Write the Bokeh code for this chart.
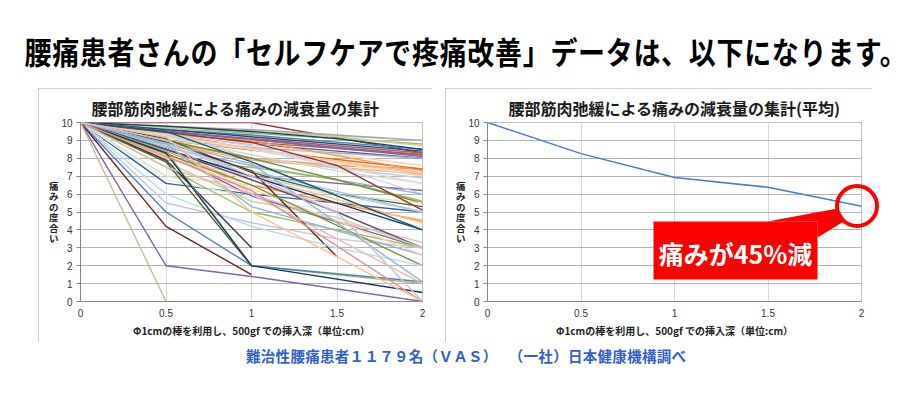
import numpy as np
from bokeh.plotting import figure
from bokeh.models import Div, Label, BoxAnnotation, PolyAnnotation, FixedTicker, Range1d
from bokeh.layouts import column, row
from bokeh.embed import file_html
from bokeh.resources import INLINE

# ---------------- data ----------------
depth = [0, 0.5, 1, 1.5, 2]
depth_ticks = [0, 0.5, 1, 1.5, 2]
depth_labels = ["0", "0.5", "1", "1.5", "2"]
pain_ticks = [0, 1, 2, 3, 4, 5, 6, 7, 8, 9, 10]

avg_pain = [10, 8.26, 6.93, 6.38, 5.32]

N = None
patients = [
    [10, 10, 10, N, 8.3],
    [10, N, N, N, 9.0],
    [10, 9.8, 9.6, 9.3, 9.0],
    [10, N, N, N, 8.8],
    [10, 9.7, 9.5, 9.2, 8.7],
    [10, 9.6, 9.3, N, 8.5],
    [10, 9.8, 9.5, 9.1, 8.5],
    [10, N, 9.2, N, 8.4],
    [10, 9.5, N, N, 8.3],
    [10, 9.5, N, 8.6, 8.2],
    [10, 9.3, 8.9, N, 8.2],
    [10, N, N, N, 8.1],
    [10, 9.2, 8.8, 8.4, 8.0],
    [10, 9.0, 8.6, 8.3, 8.0],
    [10, 9.4, 8.8, N, 7.6],
    [10, 8.9, 8.0, 7.6, 7.4],
    [10, 9.0, N, N, 7.4],
    [10, 9.3, 9.0, N, 7.3],
    [10, N, 8.5, N, 7.2],
    [10, 9.3, N, N, 7.1],
    [10, 8.8, 7.9, N, 7.1],
    [10, N, N, N, 7.0],
    [10, 9.4, 8.0, N, 6.9],
    [10, 9.0, 8.5, N, 6.6],
    [10, 9.2, 8.2, 7.3, 6.6],
    [10, 8.5, 7.0, N, 6.2],
    [10, N, 8.7, 7.5, 6.0],
    [10, 8.6, 7.6, N, 6.0],
    [10, 7.9, 7.5, 6.8, 5.6],
    [10, N, 8.0, 6.8, 5.5],
    [10, 7.0, 6.5, 6.0, 5.5],
    [10, 9.1, 7.2, 6.0, 5.3],
    [10, N, 8.9, 7.6, 5.1],
    [10, 6.6, 6.0, N, 5.0],
    [10, 8.7, 7.3, N, 5.0],
    [10, 8.8, 7.0, 6.0, 5.0],
    [10, 8.0, 6.8, 5.2, 4.6],
    [10, 8.4, 6.5, 5.5, 4.5],
    [10, 8.0, 7.0, N, 4.4],
    [10, 6.8, 5.8, 5.0, 4.2],
    [10, N, 7.0, 5.5, 4.0],
    [10, 9.5, 7.8, N, 4.0],
    [10, 9.0, 6.0, 4.5, 3.3],
    [10, 8.3, 5.9, N, 3.0],
    [10, N, 5.0, 4.0, 3.0],
    [10, 8.5, 6.8, 5.0, 3.0],
    [10, N, 5.6, 4.7, 3.0],
    [10, 5.5, 4.4, 3.5, 3.0],
    [10, 8.8, 5.3, N, 2.6],
    [10, 8.2, 6.3, 4.5, 2.6],
    [10, 8.9, 7.3, 2.5],
    [10, N, 6.5, N, 2.0],
    [10, 6.0, 4.2, 3.0, 2.0],
    [10, 7.9, 3.0],
    [10, 7.8, 2.0],
    [10, 8.4, 2.0, N, 1.0],
    [10, 5.0, 2.0, N, 1.1],
    [10, N, 7.7, 4.4, 1.1],
    [10, 7.5, 6.0, 3.5, 1.0],
    [10, 8.3, 2.0, N, 0.5],
    [10, 4.2, 1.5],
    [10, 2.0, 1.4, N, 0.0],
    [10, N, 6.2, N, 0.0],
    [10, 9.2, 5.0, N, 0.0],
    [10, 9.0, 7.0, 5.0, 0.0],
    [10, 0.0],
]

line_colors = [
    "#953735", "#BFBFBF", "#A6A6A6", "#9BBB59", "#C3D69B", "#4F81BD", "#17375E", "#1F497D",
    "#C0504D", "#4F81BD", "#C0504D", "#8064A2", "#376092", "#B3A2C7", "#FCD5B5", "#F79646",
    "#E46C0A", "#F79646", "#E6B9B8", "#FAC090", "#F9AB6B", "#FCD5B5", "#B9CDE5", "#D9D9D9",
    "#DDD9C3", "#8064A2", "#C6D9F1", "#95B3D7", "#9BBB59", "#77933C", "#D7E4BD", "#4F6228",
    "#953735", "#376092", "#93CDDD", "#B9CDE5", "#F2DCDB", "#F79646", "#FAC090", "#DBEEF4",
    "#17375E", "#215968", "#E6B9B8", "#8064A2", "#9BBB59", "#604A7B", "#C3D69B", "#CCC1DA",
    "#95B3D7", "#FCD5B5", "#632523", "#77933C", "#B7DEE8", "#403152", "#4F6228", "#9BBB59",
    "#4F81BD", "#95B3D7", "#E6B9B8", "#17375E", "#632523", "#8064A2", "#D99694", "#FAC090",
    "#CCC1DA", "#C4BD97",
]

JP = "Noto Sans CJK JP"
FRAME_H = 179
PX_PER_PAIN = FRAME_H / 10.0


def px_x(px, frame_w):
    return px / (frame_w / 2.0)


def px_y(px):
    return px / PX_PER_PAIN


def base_fig(frame_w, right_border, title, title_align, title_offset):
    p = figure(frame_width=frame_w, frame_height=FRAME_H,
               x_range=Range1d(0, 2), y_range=Range1d(0, 10),
               output_backend="svg", toolbar_location=None,
               min_border_left=42, min_border_right=right_border,
               min_border_top=34, min_border_bottom=41,
               background_fill_color="white", border_fill_color="white",
               title=title)
    p.styles = {"outline": "1px solid #BFBFBF", "outline-offset": "-1px"}
    p.title.align = title_align
    p.title.offset = title_offset
    p.title.text_font = JP
    p.title.text_font_size = "16px"
    p.title.text_font_style = "bold"
    p.title.text_color = "#1A1A1A"
    p.title.standoff = 5
    p.outline_line_color = "#BFBFBF"
    p.xaxis.ticker = FixedTicker(ticks=depth_ticks)
    p.xaxis.major_label_overrides = {t: l for t, l in zip(depth_ticks, depth_labels)}
    p.yaxis.ticker = FixedTicker(ticks=pain_ticks)
    for ax in (p.xaxis[0], p.yaxis[0]):
        ax.axis_line_color = "#868686"
        ax.major_tick_line_color = "#868686"
        ax.minor_tick_line_color = None
        ax.major_label_text_font = "Liberation Sans"
        ax.major_label_text_font_size = "10px"
        ax.major_label_text_color = "#333333"
    p.yaxis.major_tick_out = 4
    p.yaxis.major_tick_in = 0
    p.yaxis.major_label_standoff = 4
    p.xaxis.major_tick_out = 0
    p.xaxis.major_tick_in = 0
    p.xaxis.major_label_standoff = 7
    p.xaxis.axis_label = "Φ1cmの棒を利用し、500gf での挿入深（単位:cm）"
    p.xaxis.axis_label_text_font = JP
    p.xaxis.axis_label_text_font_size = "10px"
    p.xaxis.axis_label_text_font_style = "bold"
    p.xaxis.axis_label_text_color = "#222222"
    p.xaxis.axis_label_standoff = 3
    # stacked vertical y-axis title
    p.yaxis.axis_label = "痛\nみ\nの\n度\n合\nい"
    try:
        p.yaxis[0].axis_label_orientation = "horizontal"
    except Exception:
        p.yaxis.axis_label = "痛みの度合い"
    p.yaxis.axis_label_text_font = JP
    p.yaxis.axis_label_text_font_size = "9.5px"
    p.yaxis.axis_label_text_font_style = "bold"
    p.yaxis.axis_label_text_color = "#222222"
    p.yaxis.axis_label_text_line_height = 0.74
    p.yaxis.axis_label_standoff = 0
    p.xgrid.ticker = FixedTicker(ticks=[0.5, 1, 1.5])
    p.xgrid.grid_line_color = "#D9D9D9"
    p.ygrid.ticker = FixedTicker(ticks=pain_ticks)
    p.ygrid.grid_line_color = "#B3B3B3"
    return p


# ---------------- left chart ----------------
left = base_fig(342, 10, "腰部筋肉弛緩による痛みの減衰量の集計", "left", 11)
xs, ys = [], []
for r in patients:
    pts = [(d, v) for d, v in zip(depth, r) if v is not None]
    xs.append([a for a, _ in pts])
    ys.append([b for _, b in pts])
left.multi_line(xs=xs, ys=ys, line_color=line_colors[:len(xs)], line_width=1.4)

# ---------------- right chart ----------------
RW = 374
right = base_fig(RW, 11, "腰部筋肉弛緩による痛みの減衰量の集計(平均)", "center", 0)
right.line(depth, avg_pain, line_color="#4A7EBB", line_width=1.5)

# callout box
right.add_layout(BoxAnnotation(left=px_x(166, RW), right=px_x(330, RW),
                               top=px_y(80), bottom=px_y(22),
                               fill_color="#FF0000", fill_alpha=1, line_color=None))
wedge_px = [(280, 80), (330, 80), (330, 64), (358, 81), (350, 93)]
right.add_layout(PolyAnnotation(xs=[px_x(a, RW) for a, _ in wedge_px],
                                ys=[px_y(b) for _, b in wedge_px],
                                fill_color="#FF0000", fill_alpha=1, line_color=None))
right.add_layout(Label(x=px_x(248, RW), y=px_y(49), text="痛みが45%減",
                       text_align="center", text_baseline="middle", text_font=JP,
                       text_font_size="25px", text_font_style="bold", text_color="white"))
# highlight ring around the last average point (extends past the chart border)
right.stylesheets = [
    ":host::after { content: ''; position: absolute; left: 390px; top: 96px; "
    "width: 44px; height: 44px; border: 4px solid #FF0000; border-radius: 50%; "
    "box-sizing: border-box; pointer-events: none; z-index: 10; }"
]

# ---------------- texts ----------------
title_html = (
    '<div style="width:894px;height:81px;display:flex;align-items:center;justify-content:center;">'
    '<span style="font-family:\'Noto Sans CJK JP\';font-weight:bold;font-size:27px;white-space:nowrap;'
    'letter-spacing:0.68px;display:inline-block;transform:scaleY(1.15);position:relative;left:11px;top:4px;color:#000;">'
    '腰痛患者さんの「セルフケアで疼痛改善」データは、以下になります。</span></div>'
)
title_div = Div(text=title_html, width=894, height=81, margin=(0, 0, 0, 0))

caption_html = (
    '<div style="width:894px;height:30px;padding-left:238px;padding-top:4px;box-sizing:border-box;'
    'font-family:\'Noto Sans CJK JP\';font-weight:bold;font-size:14.5px;letter-spacing:0.3px;'
    'color:#3060C8;white-space:nowrap;">'
    '難治性腰痛患者１１７９名（ＶＡＳ）　 （一社）日本健康機構調べ</div>'
)
caption_div = Div(text=caption_html, width=894, height=30, margin=(0, 0, 0, 0))

left.margin = (0, 0, 0, 30)
right.margin = (0, 0, 0, 13)
charts = row(left, right, spacing=0, margin=(0, 0, 0, 0))
page = column(title_div, charts, caption_div, spacing=0, margin=(7, 0, 0, 8))

open("out.html", "w").write(file_html(page, INLINE))
